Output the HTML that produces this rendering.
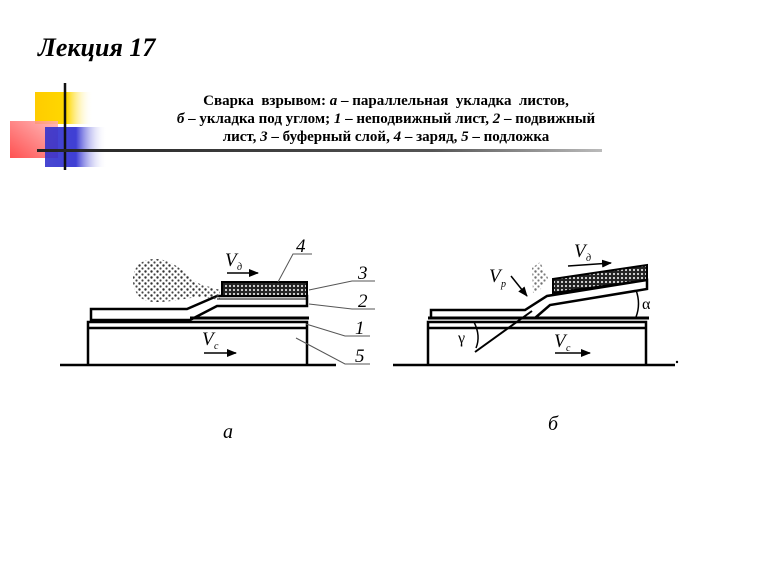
<!DOCTYPE html>
<html><head><meta charset="utf-8"><style>
html,body{margin:0;padding:0;background:#fff;}
body{width:768px;height:576px;position:relative;overflow:hidden;font-family:"Liberation Serif",serif;}
</style></head><body>
<svg width="768" height="576" viewBox="0 0 768 576" xmlns="http://www.w3.org/2000/svg" style="position:absolute;left:0;top:0">
<defs>
<linearGradient id="gy" x1="0" x2="1"><stop offset="0" stop-color="#ffcc00"/><stop offset="0.55" stop-color="#ffd800"/><stop offset="1" stop-color="#fff" stop-opacity="0"/></linearGradient>
<linearGradient id="gr" x1="0" y1="1" x2="1" y2="0"><stop offset="0" stop-color="#ff3333"/><stop offset="1" stop-color="#ffb0b0"/></linearGradient>
<linearGradient id="gb" x1="0" x2="1"><stop offset="0" stop-color="#3333cc"/><stop offset="0.5" stop-color="#2a2ad0"/><stop offset="1" stop-color="#fff" stop-opacity="0"/></linearGradient>
<linearGradient id="gl" x1="0" x2="1"><stop offset="0" stop-color="#222"/><stop offset="0.7" stop-color="#555"/><stop offset="1" stop-color="#bbb"/></linearGradient>
<pattern id="dots" width="6" height="6" patternUnits="userSpaceOnUse"><circle cx="1.5" cy="1.5" r="1.2" fill="#333"/><circle cx="4.5" cy="4.5" r="1.1" fill="#444"/></pattern>
<pattern id="chk" width="4" height="4" patternUnits="userSpaceOnUse"><rect width="4" height="4" fill="#222"/><circle cx="2" cy="2" r="1.1" fill="#ddd"/></pattern>
<marker id="ar" markerWidth="10" markerHeight="8" refX="9" refY="4" orient="auto" markerUnits="userSpaceOnUse"><path d="M0,0 L10,4 L0,8 Z" fill="#000"/></marker>
</defs>
<rect x="35" y="92" width="58" height="32" fill="url(#gy)"/>
<rect x="10" y="121" width="48" height="37" fill="url(#gr)" opacity="0.85"/>
<rect x="45" y="127" width="62" height="40" fill="url(#gb)" opacity="0.9"/>
<line x1="65" y1="83" x2="65" y2="170" stroke="#111" stroke-width="2.5"/>
<rect x="37" y="149" width="565" height="3" fill="url(#gl)"/>
<text x="38" y="56" font-size="26" font-weight="bold" font-style="italic" fill="#000">Лекция 17</text>
<g font-size="15" font-weight="bold" text-anchor="middle" fill="#000">
<text x="386" y="105" xml:space="preserve">Сварка  взрывом: <tspan font-style="italic">а</tspan> – параллельная  укладка  листов,</text>
<text x="386" y="123"><tspan font-style="italic">б</tspan> – укладка под углом; <tspan font-style="italic">1</tspan> – неподвижный лист, <tspan font-style="italic">2</tspan> – подвижный</text>
<text x="386" y="141">лист, <tspan font-style="italic">3</tspan> – буферный слой, <tspan font-style="italic">4</tspan> – заряд, <tspan font-style="italic">5</tspan> – подложка</text>
</g>
<g stroke="#000" fill="none" stroke-width="2.5">
<line x1="60" y1="365" x2="336" y2="365"/>
<path d="M88,365 V322 H307 V365"/>
<line x1="88" y1="328" x2="307" y2="328"/>
<line x1="190" y1="318" x2="309" y2="318" stroke-width="3"/>
<path d="M91,320 V309 H187 L217,296 H307 V306 H217 L190,320 Z"/>
</g>
<path d="M155,259 C175,259 185,275 200,284 L220,290 L220,300 L200,297 C185,298 175,302 155,302 C140,302 133,292 133,280 C133,268 140,259 155,259 Z" fill="url(#dots)"/>
<rect x="222" y="282" width="85" height="14" fill="url(#chk)" stroke="#000" stroke-width="2"/>
<line x1="217" y1="299" x2="307" y2="299" stroke="#000" stroke-width="1"/>
<g stroke="#555" stroke-width="1" fill="none">
<path d="M278,282 L293,254 H312"/>
<path d="M309,290 L352,281 H375"/>
<path d="M309,304 L352,309 H375"/>
<path d="M306,324 L345,336 H370"/>
<path d="M296,338 L345,364 H370"/>
</g>
<g font-style="italic" font-size="19" fill="#000">
<text x="296" y="252">4</text><text x="358" y="279">3</text><text x="358" y="307">2</text><text x="355" y="334">1</text><text x="355" y="362">5</text>
<text x="225" y="266" font-size="19">V</text><text x="237" y="270" font-size="10">д</text>
<text x="202" y="345" font-size="19">V</text><text x="214" y="349" font-size="10">с</text>
<text x="223" y="438" font-size="20">а</text>
<text x="548" y="430" font-size="20">б</text>
</g>
<line x1="227" y1="273" x2="258" y2="273" stroke="#000" stroke-width="1.5" marker-end="url(#ar)"/>
<line x1="204" y1="353" x2="236" y2="353" stroke="#000" stroke-width="1.5" marker-end="url(#ar)"/>
<g stroke="#000" fill="none" stroke-width="2.5">
<line x1="393" y1="365" x2="675" y2="365"/>
<path d="M428,365 V322 H646 V365"/>
<line x1="428" y1="328" x2="646" y2="328"/>
<line x1="428" y1="318" x2="649" y2="318" stroke-width="3"/>
<path d="M431,318 V310 H525 L547,296 L647,280 V289 L550,305 L535,318"/>
</g>
<path d="M533,293 L540,290 L548,278 L540,262 L532,268 Z" fill="url(#dots)" opacity="0.7"/>
<path d="M553,279 L647,265 V280 L553,293 Z" fill="url(#chk)" stroke="#000" stroke-width="2"/>
<line x1="475" y1="352" x2="532" y2="311" stroke="#000" stroke-width="2"/>
<path d="M474,322 Q481,336 476,348" stroke="#000" stroke-width="1.5" fill="none"/>
<path d="M636,290 Q641,304 636,317" stroke="#000" stroke-width="1.5" fill="none"/>
<g font-style="italic" font-size="18" fill="#000">
<text x="489" y="282" font-size="19">V</text><text x="501" y="287" font-size="10">р</text>
<text x="574" y="257" font-size="19">V</text><text x="586" y="261" font-size="10">д</text>
<text x="554" y="347" font-size="19">V</text><text x="566" y="351" font-size="10">с</text>
<text x="458" y="343" font-size="16" font-style="normal">γ</text>
<text x="642" y="309" font-size="16" font-style="normal">α</text>
</g>
<line x1="511" y1="276" x2="527" y2="296" stroke="#000" stroke-width="1.5" marker-end="url(#ar)"/>
<line x1="568" y1="266" x2="611" y2="263" stroke="#000" stroke-width="1.5" marker-end="url(#ar)"/>
<line x1="555" y1="353" x2="590" y2="353" stroke="#000" stroke-width="1.5" marker-end="url(#ar)"/>
<circle cx="677" cy="362" r="1.2" fill="#000"/>
</svg>
</body></html>
